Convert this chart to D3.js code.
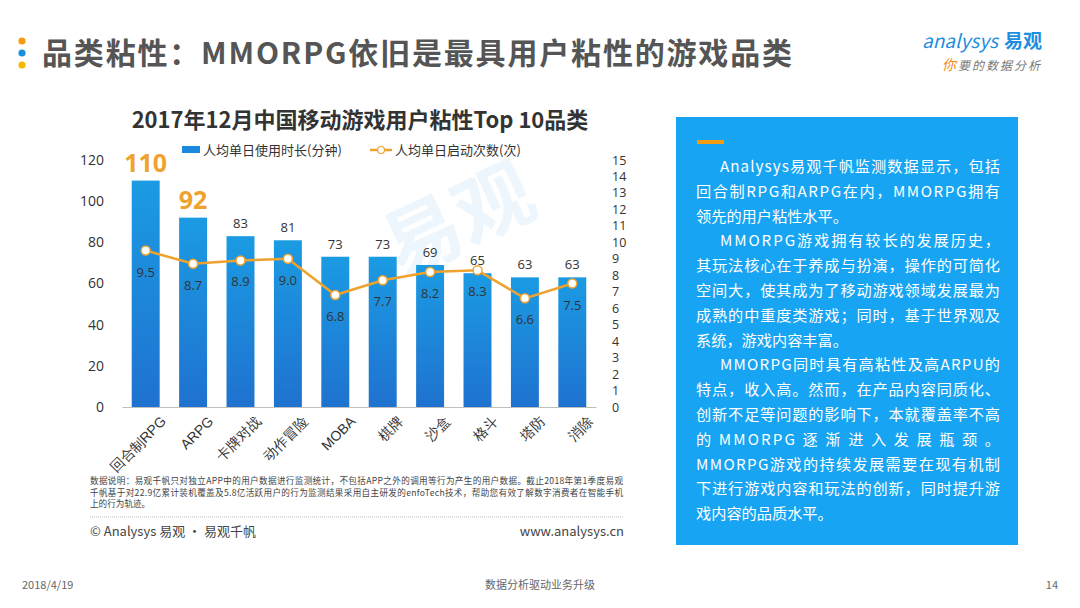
<!DOCTYPE html>
<html>
<head>
<meta charset="utf-8">
<script src="https://cdn.jsdelivr.net/npm/d3@7"></script>
<style>
  body { margin: 0; background: #fff; }
  svg { display: block; font-family: "Noto Sans CJK SC", "Noto Sans", sans-serif; }
</style>
</head>
<body>
<svg width="1080" height="608"></svg>
<script>
const categories = ["回合制RPG", "ARPG", "卡牌对战", "动作冒险", "MOBA", "棋牌", "沙盒", "格斗", "塔防", "消除"];
const durations = [110, 92, 83, 81, 73, 73, 69, 65, 63, 63];
const launches = [9.5, 8.7, 8.9, 9.0, 6.8, 7.7, 8.2, 8.3, 6.6, 7.5];
const leftTicks = [0, 20, 40, 60, 80, 100, 120];
const rightTicks = d3.range(0, 16);
const highlighted = ["回合制RPG", "ARPG"];

const boxLines = [
  { t: "Analysys易观千帆监测数据显示，包括", indent: true, full: true },
  { t: "回合制RPG和ARPG在内，MMORPG拥有", full: true },
  { t: "领先的用户粘性水平。" },
  { t: "MMORPG游戏拥有较长的发展历史，", indent: true, full: true },
  { t: "其玩法核心在于养成与扮演，操作的可简化", full: true },
  { t: "空间大，使其成为了移动游戏领域发展最为", full: true },
  { t: "成熟的中重度类游戏；同时，基于世界观及", full: true },
  { t: "系统，游戏内容丰富。" },
  { t: "MMORPG同时具有高粘性及高ARPU的", indent: true, full: true },
  { t: "特点，收入高。然而，在产品内容同质化、", full: true },
  { t: "创新不足等问题的影响下，本就覆盖率不高", full: true },
  { t: "的 MMORPG 逐 渐 进 入 发 展 瓶 颈 。", full: true },
  { t: "MMORPG游戏的持续发展需要在现有机制", full: true },
  { t: "下进行游戏内容和玩法的创新，同时提升游", full: true },
  { t: "戏内容的品质水平。" }
];

const noteLines = [
  "数据说明：易观千帆只对独立APP中的用户数据进行监测统计，不包括APP之外的调用等行为产生的用户数据。截止2018年第1季度易观",
  "千帆基于对22.9亿累计装机覆盖及5.8亿活跃用户的行为监测结果采用自主研发的enfoTech技术，帮助您有效了解数字消费者在智能手机",
  "上的行为轨迹。"
];

const svg = d3.select("svg");
const orange = "#f0a22e";

// page header
[["#f39c12", 41], ["#1a8fe0", 53], ["#f5b800", 65]].forEach(([c, y]) => {
  svg.append("circle").attr("cx", 22).attr("cy", y).attr("r", 3.6).attr("fill", c);
});
svg.append("text")
  .attr("x", 42).attr("y", 64)
  .attr("font-size", 30).attr("font-weight", "bold").attr("fill", "#555")
  .attr("textLength", 750).attr("lengthAdjust", "spacing")
  .text("品类粘性：MMORPG依旧是最具用户粘性的游戏品类");

// logo
svg.append("text")
  .attr("x", 922).attr("y", 48)
  .attr("font-size", 19).attr("fill", "#1d8ee0").attr("font-style", "italic")
  .text("analysys");
svg.append("text")
  .attr("x", 1004).attr("y", 48)
  .attr("font-size", 19).attr("font-weight", "bold").attr("fill", "#1d8ee0")
  .text("易观");
const slogan = svg.append("text")
  .attr("x", 942).attr("y", 70)
  .attr("font-size", 12).attr("font-style", "italic").attr("letter-spacing", 2);
slogan.append("tspan").attr("fill", "#f08a1c").attr("font-size", 14).text("你");
slogan.append("tspan").attr("fill", "#777").text("要的数据分析");

// chart
const margin = { top: 160, bottom: 201, left: 122, right: 484 };
const innerH = 608 - margin.top - margin.bottom;
const xScale = d3.scaleBand()
  .domain(categories)
  .range([margin.left, 1080 - margin.right])
  .paddingInner(0.41)
  .paddingOuter(0.205);
const yLeft = d3.scaleLinear().domain([0, 120]).range([margin.top + innerH, margin.top]);
const yRight = d3.scaleLinear().domain([0, 15]).range([margin.top + innerH, margin.top]);

svg.append("text")
  .attr("x", 360).attr("y", 128)
  .attr("text-anchor", "middle")
  .attr("font-size", 22).attr("font-weight", "bold").attr("fill", "#333")
  .text("2017年12月中国移动游戏用户粘性Top 10品类");

// watermark
svg.append("text")
  .attr("transform", "translate(470,245) rotate(-25)")
  .attr("text-anchor", "middle")
  .attr("font-size", 78).attr("font-weight", "bold")
  .attr("fill", "#d8ecfa").attr("opacity", 0.45)
  .text("易观");

const defs = svg.append("defs");
const grad = defs.append("linearGradient").attr("id", "barGrad")
  .attr("x1", 0).attr("y1", 0).attr("x2", 0).attr("y2", 1);
grad.append("stop").attr("offset", "0%").attr("stop-color", "#1b9be3");
grad.append("stop").attr("offset", "100%").attr("stop-color", "#1f72cf");

svg.selectAll("rect.bar")
  .data(categories)
  .join("rect")
  .attr("class", "bar")
  .attr("x", d => xScale(d))
  .attr("y", (d, i) => yLeft(durations[i]))
  .attr("width", xScale.bandwidth())
  .attr("height", (d, i) => yLeft(0) - yLeft(durations[i]))
  .attr("fill", "url(#barGrad)");

// axes
const axisLeft = d3.axisLeft(yLeft).tickValues(leftTicks).tickSize(0).tickPadding(18);
const axisRight = d3.axisRight(yRight).tickValues(rightTicks).tickSize(0).tickPadding(16);
const gl = svg.append("g").attr("transform", `translate(${margin.left},0)`).call(axisLeft);
const gr = svg.append("g").attr("transform", `translate(${1080 - margin.right},0)`).call(axisRight);
gl.select(".domain").remove();
gr.select(".domain").remove();
gl.selectAll("text").attr("font-size", 14).attr("fill", "#333")
  .attr("font-family", "'Open Sans', 'Noto Sans', sans-serif");
gr.selectAll("text").attr("font-size", 12.5).attr("fill", "#333")
  .attr("font-family", "'Open Sans', 'Noto Sans', sans-serif");

const axisBottom = d3.axisBottom(xScale).tickSize(0).tickPadding(6);
const gb = svg.append("g").attr("transform", `translate(0,${yLeft(0)})`).call(axisBottom);
gb.select(".domain").attr("stroke", "#bfbfbf");
gb.selectAll("text")
  .attr("font-size", 14).attr("fill", "#333")
  .attr("text-anchor", "end")
  .attr("transform", "translate(10,4) rotate(-45)")
  .attr("dy", "0.7em");

// bar labels
svg.selectAll("text.barLabel")
  .data(categories)
  .join("text")
  .attr("class", "barLabel")
  .attr("x", d => xScale(d) + xScale.bandwidth() / 2)
  .attr("y", (d, i) => yLeft(durations[i]) - (highlighted.includes(d) ? 9 : 8))
  .attr("text-anchor", "middle")
  .attr("font-family", "'Open Sans', 'Noto Sans', sans-serif")
  .attr("font-size", d => highlighted.includes(d) ? 25 : 13)
  .attr("font-weight", d => highlighted.includes(d) ? "bold" : "normal")
  .attr("fill", d => highlighted.includes(d) ? orange : "#333")
  .text((d, i) => durations[i]);

// line series
const lineData = categories.map((c, i) => ({ c, v: launches[i] }));
const cx = d => xScale(d.c) + xScale.bandwidth() / 2;
svg.append("path")
  .datum(lineData)
  .attr("fill", "none")
  .attr("stroke", orange)
  .attr("stroke-width", 2.5)
  .attr("d", d3.line().x(cx).y(d => yRight(d.v)));
svg.selectAll("circle.pt")
  .data(lineData)
  .join("circle")
  .attr("class", "pt")
  .attr("cx", cx)
  .attr("cy", d => yRight(d.v))
  .attr("r", 4.5)
  .attr("fill", "#fff")
  .attr("stroke", orange)
  .attr("stroke-width", 1.5);
svg.selectAll("text.ptLabel")
  .data(lineData)
  .join("text")
  .attr("class", "ptLabel")
  .attr("x", cx)
  .attr("y", d => yRight(d.v) + 26)
  .attr("text-anchor", "middle")
  .attr("font-family", "'Open Sans', 'Noto Sans', sans-serif")
  .attr("font-size", 13).attr("fill", "#333")
  .text(d => d.v.toFixed(1));

// legend
svg.append("rect").attr("x", 182).attr("y", 146).attr("width", 18).attr("height", 7).attr("fill", "#1b8ade");
svg.append("text").attr("x", 203).attr("y", 155).attr("font-size", 13).attr("fill", "#333")
  .text("人均单日使用时长(分钟)");
svg.append("line").attr("x1", 370).attr("x2", 392).attr("y1", 150).attr("y2", 150)
  .attr("stroke", orange).attr("stroke-width", 2.5);
svg.append("circle").attr("cx", 381).attr("cy", 150).attr("r", 3.5)
  .attr("fill", "#fff").attr("stroke", orange).attr("stroke-width", 1.2);
svg.append("text").attr("x", 395).attr("y", 155).attr("font-size", 13).attr("fill", "#333")
  .text("人均单日启动次数(次)");

// footnote
svg.selectAll("text.note")
  .data(noteLines)
  .join("text")
  .attr("class", "note")
  .attr("x", 90)
  .attr("y", (d, i) => 484 + i * 11.5)
  .attr("font-size", 8.6).attr("fill", "#444")
  .attr("textLength", (d, i) => i < 2 ? 533 : null)
  .attr("lengthAdjust", "spacing")
  .text(d => d);
svg.append("line").attr("x1", 90).attr("x2", 624).attr("y1", 517).attr("y2", 517)
  .attr("stroke", "#bbb").attr("stroke-width", 1).attr("stroke-dasharray", "1,1");
svg.append("text").attr("x", 90).attr("y", 536).attr("font-size", 13).attr("fill", "#444")
  .text("© Analysys 易观 · 易观千帆");
svg.append("text").attr("x", 624).attr("y", 536).attr("text-anchor", "end")
  .attr("font-size", 13).attr("fill", "#444")
  .text("www.analysys.cn");

// text box
svg.append("rect").attr("x", 676).attr("y", 117).attr("width", 342).attr("height", 428)
  .attr("fill", "#17a4f2");
svg.append("rect").attr("x", 697).attr("y", 140).attr("width", 27).attr("height", 4)
  .attr("fill", "#f39c12");
svg.selectAll("text.box")
  .data(boxLines)
  .join("text")
  .attr("class", "box")
  .attr("x", d => d.indent ? 720 : 696)
  .attr("y", (d, i) => 172 + i * 24.8)
  .attr("font-size", 15.2).attr("fill", "#fff")
  .attr("textLength", d => d.full ? (d.indent ? 280 : 304) : null)
  .attr("lengthAdjust", "spacing")
  .text(d => d.t);

// page footer
svg.append("text").attr("x", 22).attr("y", 589).attr("font-size", 11).attr("fill", "#666").text("2018/4/19");
svg.append("text").attr("x", 540).attr("y", 589).attr("text-anchor", "middle").attr("font-size", 11).attr("fill", "#666")
  .text("数据分析驱动业务升级");
svg.append("text").attr("x", 1058).attr("y", 589).attr("text-anchor", "end").attr("font-size", 11).attr("fill", "#666").text("14");
</script>
</body>
</html>
